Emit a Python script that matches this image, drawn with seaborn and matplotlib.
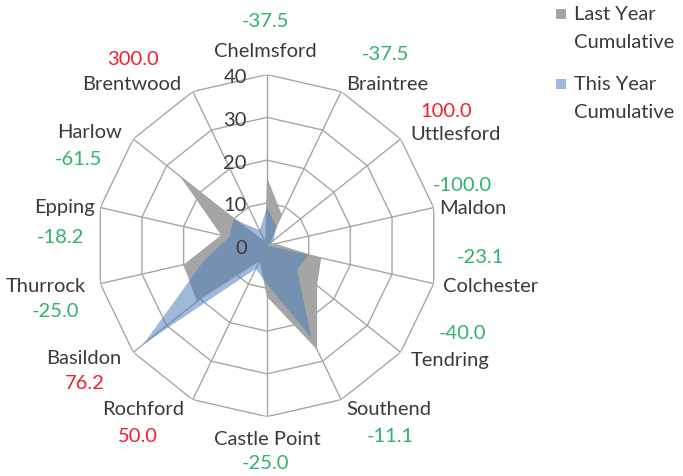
import numpy as np
import matplotlib.pyplot as plt
import seaborn as sns
from matplotlib.patches import Rectangle

# ============================================================================
# Data
# ============================================================================

areas = ["Chelmsford", "Braintree", "Uttlesford", "Maldon", "Colchester",
         "Tendring", "Southend", "Castle Point", "Rochford", "Basildon",
         "Thurrock", "Epping", "Harlow", "Brentwood"]

last_year = [16, 8, 1, 2, 13, 15, 27, 12, 4, 21, 20, 11, 26, 1]
this_year = [9, 5, 2, 0, 10, 9, 24, 9, 6, 37, 15, 9, 10, 4]

pct_change = ["-37.5", "-37.5", "100.0", "-100.0", "-23.1", "-40.0", "-11.1",
              "-25.0", "50.0", "76.2", "-25.0", "-18.2", "-61.5", "300.0"]

r_ticks = [0, 10, 20, 30, 40]

series_names = [["Last Year", "Cumulative"], ["This Year", "Cumulative"]]

# label offsets from the outer vertex (pixels, y down)
name_off = [(-2, -24), (46, -8), (55, -5), (39, 0), (57, 2), (50, 7), (48, 9),
            (0, 22), (-50, 9), (-50, 5), (-54, 2), (-36, -1), (-44, -7), (-61, -8)]
pct_off = [(-2, -54), (44, -38), (45, -28), (29, -23), (47, -27), (62, -20), (49, 36),
           (-1, 46), (-55, 36), (-48, 30), (-45, 27), (-40, 29), (-55, 20), (-60, -33)]

# ============================================================================
# Style
# ============================================================================

sns.set_theme(style="white")
plt.rcParams["font.family"] = ["Lato", "DejaVu Sans"]

text_col = "#3a3a3a"
grid_col = "#a6a6a6"
gray_fill = "#a5a5a5"
blue_fill = "#4f81bd"
green = "#2fb36a"
red = "#f0202e"
fs = 14.5

# ============================================================================
# Plot
# ============================================================================

W, H = 683, 477
fig = plt.figure(figsize=(W / 100, H / 100), dpi=100)
ax = fig.add_axes([0.1405, 0.1245, 0.5008, 0.717], projection="polar")
ax.set_theta_zero_location("N")
ax.set_theta_direction(-1)
ax.set_ylim(0, 40)

theta = np.linspace(0, 2 * np.pi, len(areas), endpoint=False)
theta_c = np.append(theta, theta[0])

# polygon grid
for r in r_ticks[1:]:
    ax.plot(theta_c, [r] * len(theta_c), color=grid_col, lw=1, zorder=1)
for t in theta:
    ax.plot([t, t], [0, 40], color=grid_col, lw=1, zorder=1)

ax.fill(theta_c, last_year + last_year[:1], color=gray_fill, lw=0, zorder=2)
ax.fill(theta_c, this_year + this_year[:1], color=blue_fill, alpha=0.55, lw=0, zorder=3)

ax.grid(False)
ax.spines["polar"].set_visible(False)
ax.set_xticks([])
ax.set_yticks([])

for r in r_ticks:
    ax.annotate(str(r), xy=(0, r), xytext=(-20, -2), textcoords="offset pixels",
                ha="right", va="center", fontsize=fs, color=text_col, zorder=5)

for i, t in enumerate(theta):
    dx, dy = name_off[i]
    ax.annotate(areas[i], xy=(t, 40), xytext=(dx, -dy), textcoords="offset pixels",
                ha="center", va="center", fontsize=fs, color=text_col,
                annotation_clip=False)
    dx, dy = pct_off[i]
    col = red if not pct_change[i].startswith("-") else green
    ax.annotate(pct_change[i], xy=(t, 40), xytext=(dx, -dy), textcoords="offset pixels",
                ha="center", va="center", fontsize=fs, color=col,
                annotation_clip=False)

# legend (square aligned with the first line of each entry)
fills = [(gray_fill, 1.0), (blue_fill, 0.55)]
for k, (lines, (fc, a)) in enumerate(zip(series_names, fills)):
    y0 = 15 + 70 * k
    fig.patches.append(Rectangle(((556) / W, 1 - (y0 + 5) / H), 10 / W, 10 / H,
                                 facecolor=fc, alpha=a, edgecolor="none",
                                 transform=fig.transFigure, figure=fig))
    for j, line in enumerate(lines):
        fig.text(574 / W, 1 - (y0 + 28 * j) / H, line, ha="left", va="center",
                 fontsize=fs, color=text_col)

fig.savefig("out.png", dpi=100)
